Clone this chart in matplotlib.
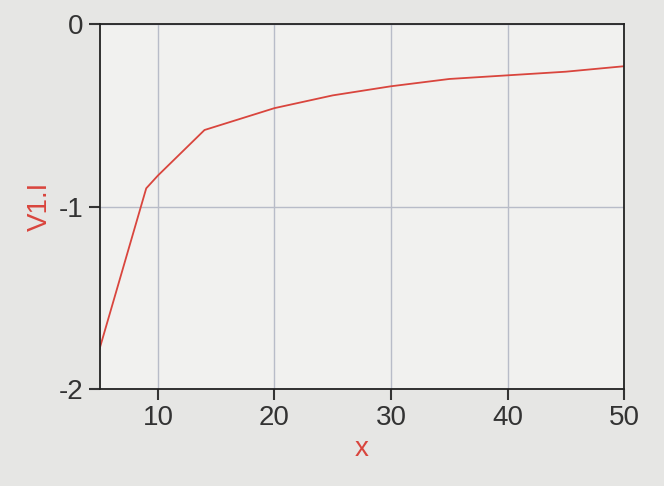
import matplotlib
matplotlib.use("Agg")
import matplotlib.pyplot as plt

plt.rcParams["axes.unicode_minus"] = False
plt.rcParams["font.family"] = ["Liberation Sans", "DejaVu Sans"]

# values
x_vals = [5, 9, 10, 14, 17, 20, 25, 30, 35, 40, 45, 50]
y_vals = [-1.78, -0.9, -0.83, -0.58, -0.52, -0.46, -0.39, -0.34, -0.3, -0.28, -0.26, -0.23]
x_ticks = [10, 20, 30, 40, 50]
y_ticks = [-2, -1, 0]

fig = plt.figure(figsize=(6.64, 4.86), dpi=100, facecolor="#e6e6e4")
ax = fig.add_axes([0.15, 0.2, 0.79, 0.75], facecolor="#f1f1ef")
ax.plot(x_vals, y_vals, color="#d9453d", lw=1.3)
ax.set_xlim(5, 50)
ax.set_ylim(-2, 0)
ax.set_xticks(x_ticks)
ax.set_yticks(y_ticks)
ax.grid(True, color="#b8bcc8", lw=1)
ax.tick_params(labelsize=20, colors="#333333", length=8, width=1.5)
ax.set_xlabel("x", color="#d9453d", fontsize=20)
ax.set_ylabel("V1.I", color="#d9453d", fontsize=20)
for s in ax.spines.values():
    s.set_color("#222222"); s.set_linewidth(1.3)
fig.savefig("out.png", dpi=100, facecolor=fig.get_facecolor())
